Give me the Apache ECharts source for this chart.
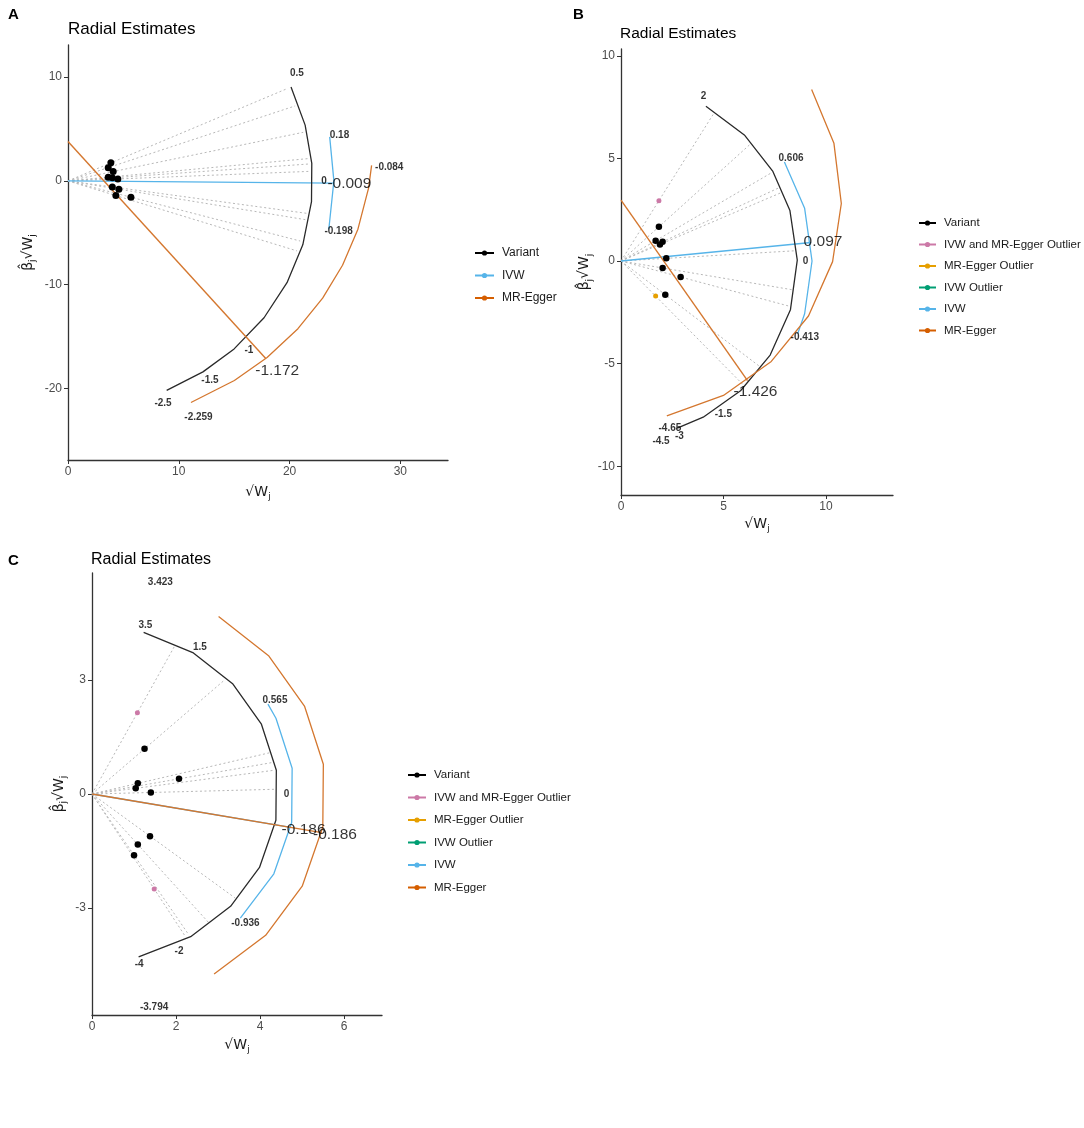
<!DOCTYPE html>
<html>
<head>
<meta charset="utf-8">
<script src="https://cdn.jsdelivr.net/npm/echarts@6/dist/echarts.min.js"></script>
<style>
html, body { margin: 0; background: #fff; }
#chart { width: 1084px; height: 1128px; }
</style>
</head>
<body>
<div id="chart"></div>
<script>
// ---------- panel A ----------
var aVariantX = [3.87, 3.63, 4.08, 4.50, 3.63, 4.00, 4.00, 4.59, 4.32, 5.68];
var aVariantY = [1.74, 1.28, 0.90, 0.19, 0.36, 0.30, -0.58, -0.80, -1.41, -1.57];
var aScaleTicks = ['0.5', '0', '-1', '-1.5', '-2.5'];
var aIvwEstimate = -0.009;
var aIvwBounds = ['0.18', '-0.198'];
var aEggerEstimate = -1.172;
var aEggerIntercept = 3.8;
var aEggerBounds = ['-0.084', '-2.259'];

// ---------- panel B ----------
var bVariantX = [1.85, 1.69, 1.90, 2.03, 2.21, 2.03, 2.91, 2.16];
var bVariantY = [1.67, 0.99, 0.81, 0.94, 0.13, -0.34, -0.78, -1.64];
var bBothOutlierX = [1.85];
var bBothOutlierY = [2.94];
var bEggerOutlierX = [1.69];
var bEggerOutlierY = [-1.71];
var bScaleTicks = ['2', '0', '-1.5', '-3', '-4.5', '-4.65'];
var bIvwEstimate = 0.097;
var bIvwBounds = ['0.606', '-0.413'];
var bEggerEstimate = -1.426;
var bEggerIntercept = 2.97;

// ---------- panel C ----------
var cVariantX = [1.25, 1.09, 1.04, 1.40, 2.07, 1.38, 1.09, 1.00];
var cVariantY = [1.19, 0.28, 0.15, 0.04, 0.40, -1.11, -1.33, -1.61];
var cBothOutlierX = [1.08, 1.48];
var cBothOutlierY = [2.14, -2.50];
var cScaleTicks = ['3.5', '1.5', '0', '-2', '-4'];
var cIvwEstimate = -0.186;
var cIvwBounds = ['0.565', '-0.936'];
var cEggerEstimate = -0.186;
var cEggerIntercept = 0;
var cEggerBounds = ['3.423', '-3.794'];

// axis ticks
var aXTicks = [0, 10, 20, 30], aYTicks = [-20, -10, 0, 10];
var bXTicks = [0, 5, 10], bYTicks = [-10, -5, 0, 5, 10];
var cXTicks = [0, 2, 4, 6], cYTicks = [-3, 0, 3];

var legendShort = ['Variant', 'IVW', 'MR-Egger'];
var legendLong = ['Variant', 'IVW and MR-Egger Outlier', 'MR-Egger Outlier', 'IVW Outlier', 'IVW', 'MR-Egger'];

// arc geometry: radius and vertex angles (degrees)
var aScaleArc = {r: 22.07, deg: [24.2, 14.1, 4.4, -5.2, -16.2, -26.4, -36.7, -47.2, -56.5, -66.2]};
var aIvwArc = {r: 24.0, deg: [10.2, 0, -11.2]};
var aEggerArc = {r: 27.5, deg: [-4.8, -9.4, -17.9, -25.7, -33.3, -41, -49.2, -56.9, -66.2]};
var bScaleArc = {r: 8.6, deg: [61.2, 45.6, 30.5, 16.6, 0.3, -16, -32.2, -47.3, -62.2, -71.8]};
var bIvwArc = {r: 9.32, deg: [31.2, 16, 0, -16, -22.3]};
var bEggerArc = {r: 10.75, deg: [30.1, 14.9, -0.9, -16.2, -31.7, -47, -62.3, -78]};
var cScaleArc = {r: 4.43, deg: [73.9, 57, 40.8, 24.5, 8.1, -9, -25.9, -41.9, -58, -75.5]};
var cIvwArc = {r: 4.81, deg: [29.5, 24.5, 8.1, -9, -25.9, -42.8]};
var cEggerArc = {r: 5.56, deg: [57.2, 40.8, 24.5, 8.1, -9, -25.9, -42, -58.5]};

var BLACK = '#000000', IVW_COL = '#56B4E9', EGG_COL = '#D55E00';
var EGG_LINE = '#D4772F', SCALE_LINE = '#2a2a2a';
var PINK = '#CC79A7', GOLD = '#E69F00', GREEN = '#009E73';
var FONT = 'Liberation Sans, Arial, sans-serif';

function atanDeg(v) { return Math.atan(v) * 180 / Math.PI; }
function polar(r, deg, cy) {
	var t = deg * Math.PI / 180;
	return [r * Math.cos(t), cy + r * Math.sin(t)];
}

function arcSeries(g, arc, cy, color, z) {
	return {
		type: 'line', xAxisIndex: g, yAxisIndex: g, silent: true,
		symbol: 'none', z: z || 3,
		lineStyle: {color: color, width: 1.3},
		data: arc.deg.map(function (d) { return polar(arc.r, d, cy); })
	};
}

function segSeries(g, segs, style, z) {
	return {
		type: 'lines', coordinateSystem: 'cartesian2d', xAxisIndex: g, yAxisIndex: g,
		silent: true, z: z || 2, lineStyle: style,
		data: segs.map(function (s) { return {coords: s}; })
	};
}

// dotted lines from origin to the scale arc at each variant's ratio
function spokes(g, xs, ys, arc) {
	var segs = xs.map(function (x, i) {
		return [[0, 0], polar(arc.r * 0.985, atanDeg(ys[i] / x), 0)];
	});
	return segSeries(g, segs, {type: [2, 2.5], color: '#b8b8b8', width: 1, opacity: 1}, 1);
}

function pointSeries(g, xs, ys, color, size) {
	return {
		type: 'scatter', xAxisIndex: g, yAxisIndex: g, silent: true, z: 6,
		symbolSize: size, itemStyle: {color: color, opacity: 1},
		data: xs.map(function (x, i) { return [x, ys[i]]; })
	};
}

function textSeries(g, items, size, weight) {
	return {
		type: 'scatter', xAxisIndex: g, yAxisIndex: g, silent: true, z: 7,
		symbolSize: 1, itemStyle: {color: 'rgba(0,0,0,0)'},
		label: {
			show: true, position: 'inside', color: '#000', fontFamily: FONT,
			fontSize: size, fontWeight: weight,
			formatter: function (p) { return p.data.text; }
		},
		data: items
	};
}

function labelsAt(texts, r, cy, override) {
	return texts.map(function (t) {
		var o = (override && override[t]) || {};
		var ang = o.deg !== undefined ? o.deg : atanDeg(parseFloat(t));
		return {value: polar(o.r || r, ang, cy), text: t};
	});
}

function legendDummy(name, color) {
	return {
		type: 'line', name: name, xAxisIndex: 0, yAxisIndex: 0, data: [],
		symbol: 'circle', symbolSize: 5,
		itemStyle: {color: color}, lineStyle: {color: color, width: 1.5}
	};
}

var nameRich = {
	b: {fontSize: 14, color: '#1a1a1a', fontFamily: 'DejaVu Sans'},
	s: {fontSize: 9, color: '#1a1a1a', fontFamily: 'DejaVu Sans', padding: [9, 0, 0, 0]}
};

function xAxisOf(g, max, ticks, gap) {
	return {
		type: 'value', gridIndex: g, min: 0, max: max,
		axisLine: {show: true, onZero: false, lineStyle: {color: '#333', width: 1.3}},
		axisTick: {show: true, length: 4, customValues: ticks, lineStyle: {color: '#333'}},
		axisLabel: {customValues: ticks, color: '#4d4d4d', fontSize: 12, margin: 6, fontFamily: FONT},
		splitLine: {show: false},
		name: '{b|√W}{s|j}', nameLocation: 'middle', nameGap: gap,
		nameTextStyle: {rich: nameRich}
	};
}

function yAxisOf(g, min, max, ticks, gap) {
	return {
		type: 'value', gridIndex: g, min: min, max: max,
		axisLine: {show: true, onZero: false, lineStyle: {color: '#333', width: 1.3}},
		axisTick: {show: true, length: 4, customValues: ticks, lineStyle: {color: '#333'}},
		axisLabel: {customValues: ticks, color: '#4d4d4d', fontSize: 12, margin: 6, fontFamily: FONT},
		splitLine: {show: false},
		name: '{b|β̂}{s|j}{b|√W}{s|j}', nameLocation: 'middle', nameGap: gap, nameRotate: 90,
		nameTextStyle: {rich: nameRich}
	};
}

function panelSeries(g, p) {
	var list = [];
	var allX = p.variantX.concat(p.bothX || [], p.eggX || []);
	var allY = p.variantY.concat(p.bothY || [], p.eggY || []);
	list.push(spokes(g, allX, allY, p.scaleArc));
	list.push(arcSeries(g, p.scaleArc, 0, SCALE_LINE, 3));
	list.push(arcSeries(g, p.ivwArc, 0, IVW_COL, 3));
	list.push(arcSeries(g, p.eggerArc, p.eggInt, EGG_LINE, 3));
	list.push(segSeries(g, [[[0, 0], polar(p.ivwArc.r, atanDeg(p.ivwEst), 0)]],
		{color: IVW_COL, width: 1.4, opacity: 1}, 3));
	list.push(segSeries(g, [[[0, p.eggInt], polar(p.eggerArc.r, atanDeg(p.eggEst), p.eggInt)]],
		{color: EGG_LINE, width: 1.4, opacity: 1}, 4));
	list.push(pointSeries(g, p.variantX, p.variantY, BLACK, p.dot));
	if (p.bothX) list.push(pointSeries(g, p.bothX, p.bothY, PINK, p.dot - 1.5));
	if (p.eggX) list.push(pointSeries(g, p.eggX, p.eggY, GOLD, p.dot - 1.5));
	var small = labelsAt(p.scaleTicks, p.scaleLabelR, 0, p.override)
		.concat(labelsAt(p.ivwBounds, p.ivwLabelR, 0))
		.concat(labelsAt(p.eggBounds || [], p.eggLabelR, p.eggInt));
	list.push(textSeries(g, small, 10, 'bold'));
	var big = labelsAt([String(p.ivwEst)], p.ivwEstR, 0)
		.concat(labelsAt([String(p.eggEst)], p.eggEstR, p.eggInt));
	list.push(textSeries(g, big, 15.5, 'normal'));
	return list;
}

var series = [];
series = series.concat(panelSeries(0, {
	variantX: aVariantX, variantY: aVariantY,
	scaleArc: aScaleArc, ivwArc: aIvwArc, eggerArc: aEggerArc,
	ivwEst: aIvwEstimate, eggEst: aEggerEstimate, eggInt: aEggerIntercept,
	scaleTicks: aScaleTicks, ivwBounds: aIvwBounds, eggBounds: aEggerBounds,
	scaleLabelR: 23.1, ivwLabelR: 24.9, eggLabelR: 29.1, ivwEstR: 25.4, eggEstR: 29.1, dot: 7
}));
series = series.concat(panelSeries(1, {
	variantX: bVariantX, variantY: bVariantY,
	bothX: bBothOutlierX, bothY: bBothOutlierY, eggX: bEggerOutlierX, eggY: bEggerOutlierY,
	scaleArc: bScaleArc, ivwArc: bIvwArc, eggerArc: bEggerArc,
	ivwEst: bIvwEstimate, eggEst: bEggerEstimate, eggInt: bEggerIntercept,
	scaleTicks: bScaleTicks, ivwBounds: bIvwBounds,
	override: {'-4.65': {deg: -73.7, r: 8.5}},
	scaleLabelR: 9.0, ivwLabelR: 9.7, eggLabelR: 11.4, ivwEstR: 9.9, eggEstR: 11.43, dot: 6.5
}));
series = series.concat(panelSeries(2, {
	variantX: cVariantX, variantY: cVariantY,
	bothX: cBothOutlierX, bothY: cBothOutlierY,
	scaleArc: cScaleArc, ivwArc: cIvwArc, eggerArc: cEggerArc,
	ivwEst: cIvwEstimate, eggEst: cEggerEstimate, eggInt: cEggerIntercept,
	scaleTicks: cScaleTicks, ivwBounds: cIvwBounds, eggBounds: cEggerBounds,
	scaleLabelR: 4.63, ivwLabelR: 5.0, eggLabelR: 5.8, ivwEstR: 5.12, eggEstR: 5.88, dot: 6.5
}));

series.push(legendDummy('Variant', BLACK));
series.push(legendDummy('IVW and MR-Egger Outlier', PINK));
series.push(legendDummy('MR-Egger Outlier', GOLD));
series.push(legendDummy('IVW Outlier', GREEN));
series.push(legendDummy('IVW', IVW_COL));
series.push(legendDummy('MR-Egger', EGG_COL));

function legendAt(left, top, names, width, gap, size) {
	return {
		left: left, top: top, orient: 'vertical', selectedMode: false,
		itemWidth: width, itemHeight: 6.5, itemGap: gap, data: names,
		textStyle: {fontSize: size, color: '#1a1a1a', fontFamily: FONT, padding: [0, 0, 0, 3]}
	};
}

var titleStyle = {fontSize: 16, fontWeight: 'normal', color: '#000', fontFamily: FONT};
var letterStyle = {fontSize: 15, fontWeight: 'bold', color: '#000', fontFamily: FONT};

var option = {
	backgroundColor: '#fff',
	animation: false,
	title: [
		{text: 'A', left: 3, top: 2, textStyle: letterStyle},
		{text: 'Radial Estimates', left: 63, top: 16, textStyle: Object.assign({}, titleStyle, {fontSize: 17})},
		{text: 'B', left: 568, top: 2, textStyle: letterStyle},
		{text: 'Radial Estimates', left: 615, top: 21, textStyle: Object.assign({}, titleStyle, {fontSize: 15.5})},
		{text: 'C', left: 3, top: 548, textStyle: letterStyle},
		{text: 'Radial Estimates', left: 86, top: 547, textStyle: titleStyle}
	],
	legend: [
		legendAt(469, 242, legendShort, 19, 10.5, 12),
		legendAt(913, 212, legendLong, 17, 9.5, 11.5),
		legendAt(402, 764, legendLong, 18, 10.5, 11.5)
	],
	grid: [
		{left: 68, top: 45, width: 380, height: 415},
		{left: 621, top: 49, width: 272, height: 446},
		{left: 92, top: 573, width: 290, height: 442}
	],
	xAxis: [
		xAxisOf(0, 34.3, aXTicks, 23),
		xAxisOf(1, 13.27, bXTicks, 20),
		xAxisOf(2, 6.9, cXTicks, 21)
	],
	yAxis: [
		yAxisOf(0, -26.9, 13.1, aYTicks, 31),
		yAxisOf(1, -11.4, 10.33, bYTicks, 26),
		yAxisOf(2, -5.82, 5.82, cYTicks, 24)
	],
	series: series
};

var chart = echarts.init(document.getElementById('chart'));
chart.setOption(option);
</script>
</body>
</html>
